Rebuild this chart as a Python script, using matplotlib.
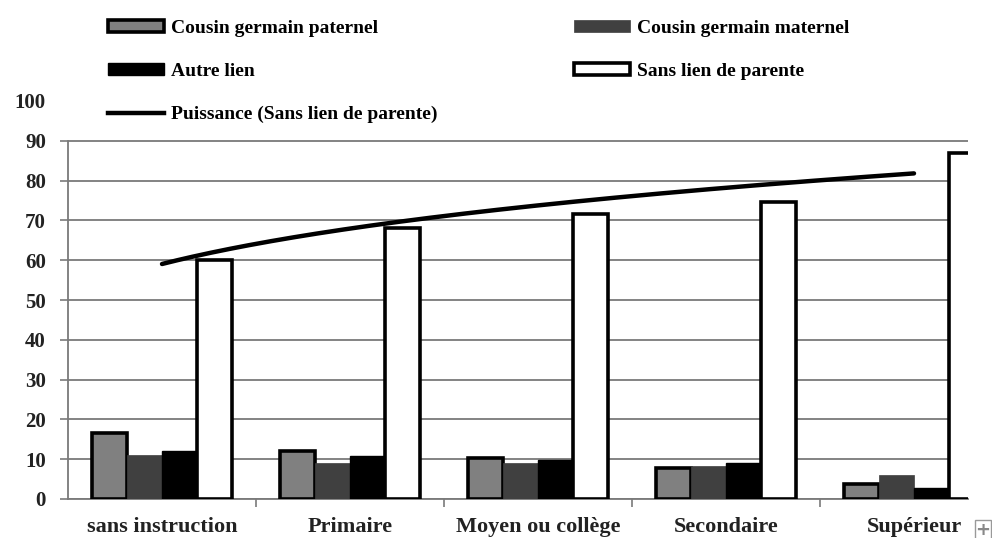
import numpy as np
import matplotlib
matplotlib.use("Agg")
import matplotlib.pyplot as plt
from matplotlib.lines import Line2D

categories = ["sans instruction", "Primaire", "Moyen ou collège", "Secondaire", "Supérieur"]
paternel = [16.5, 12.0, 10.4, 7.7, 3.8]
maternel = [11.0, 9.0, 9.0, 8.2, 6.1]
autre = [12.0, 10.8, 9.7, 9.1, 2.8]
sans_lien = [60.0, 68.0, 71.5, 74.6, 87.0]
labels = ["Cousin germain paternel", "Cousin germain maternel", "Autre lien",
          "Sans lien de parente", "Puissance (Sans lien de parente)"]
yticks = [0, 10, 20, 30, 40, 50, 60, 70, 80, 90, 100]

plt.rcParams['font.family'] = ['Liberation Serif', 'DejaVu Serif']
plt.rcParams['font.weight'] = 'bold'

W, H = 992, 538
fig = plt.figure(figsize=(W / 100, H / 100), dpi=100)
ax = fig.add_axes([68 / W, 39 / H, 900 / W, 398 / H])

x = np.arange(len(categories))
bw = 0.186
b1 = ax.bar(x - 1.5 * bw, paternel, bw, color="#808080", edgecolor="black", linewidth=2.6, zorder=3)
b2 = ax.bar(x - 0.5 * bw, maternel, bw, color="#404040", edgecolor="#404040", linewidth=0.5, zorder=3)
b3 = ax.bar(x + 0.5 * bw, autre, bw, color="black", edgecolor="black", linewidth=1.0, zorder=3)
b4 = ax.bar(x + 1.5 * bw, sans_lien, bw, color="white", edgecolor="black", linewidth=2.6, zorder=3)

# power trendline fitted on "Sans lien de parente" (x = 1..5)
xi = np.arange(1, len(categories) + 1)
coef = np.polyfit(np.log(xi), np.log(sans_lien), 1)
xs = np.linspace(1, len(categories), 200)
ys = np.exp(coef[1]) * xs ** coef[0]
tl, = ax.plot(xs - 1, ys, color="black", linewidth=3.2, zorder=4, solid_capstyle="round")

ax.set_yticks(yticks)
ax.set_yticklabels([str(v) for v in yticks], fontsize=15, fontweight="bold", color="#222222")
ax.yaxis.grid(True, color="#7a7a7a", linewidth=1.3, zorder=0)
ax.set_axisbelow(True)
ax.get_ygridlines()[-1].set_visible(False)
ax.yaxis.get_major_ticks()[-1].tick1line.set_visible(False)
ax.tick_params(axis="y", length=6, width=1.2, color="#7a7a7a", pad=10)

ax.set_xticks(x)
ax.set_xticklabels(categories, fontsize=16, fontweight="bold", color="#222222")
ax.set_xticks(np.arange(len(categories)) + 0.5, minor=True)
ax.tick_params(axis="x", which="major", length=0, pad=13)
ax.tick_params(axis="x", which="minor", length=6, width=1.2, color="#7a7a7a")

ax.set_xlim(-0.5, -0.5 + 900 / 188)
ax.set_ylim(0, 100)

for s in ["top", "right"]:
    ax.spines[s].set_visible(False)
ax.spines["left"].set_color("#7a7a7a")
ax.spines["left"].set_linewidth(1.3)
ax.spines["left"].set_bounds(0, 90)
ax.spines["bottom"].set_color("#7a7a7a")
ax.spines["bottom"].set_linewidth(1.3)

lkw = dict(frameon=False, handlelength=2.9, handleheight=0.6,
           handletextpad=0.35, borderpad=0, borderaxespad=0, labelspacing=1.33,
           prop={"weight": "bold", "size": 14})
line_handle = Line2D([0], [0], color="black", linewidth=3.2)
leg1 = fig.legend([b1, b3, line_handle], [labels[0], labels[2], labels[4]],
                  loc="upper left", bbox_to_anchor=(108 / W, 1 - 20 / H), **lkw)
leg2 = fig.legend([b2, b4], [labels[1], labels[3]],
                  loc="upper left", bbox_to_anchor=(574 / W, 1 - 20 / H), **lkw)

fig.text(983 / W, 1 - 530 / H, "+", ha="center", va="center", fontsize=13, color="#888888",
         family="DejaVu Sans",
         bbox=dict(boxstyle="square,pad=0.05", facecolor="white", edgecolor="#999999", linewidth=1))

fig.savefig("out.png", dpi=100)
